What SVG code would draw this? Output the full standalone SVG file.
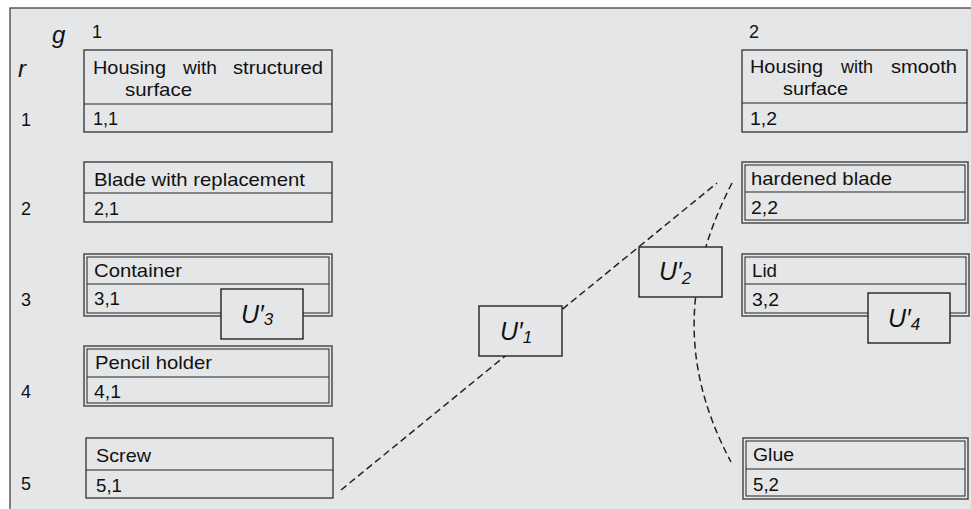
<svg xmlns="http://www.w3.org/2000/svg" width="971" height="509" viewBox="0 0 971 509">
<style>
.frame{fill:#e5e6e8;stroke:#333;stroke-width:1.2}
.box{fill:none;stroke:#222;stroke-width:1.2}
.outer{fill:none;stroke:#555;stroke-width:1.6}
.inner{fill:none;stroke:#222;stroke-width:1}
.div{stroke:#222;stroke-width:1.1}
.t{font-family:"Liberation Sans",Arial,sans-serif;font-size:19px;fill:#111}
.lab{font-family:"Liberation Sans",Arial,sans-serif;font-size:18px;fill:#111}
.it{font-family:"Liberation Sans",Arial,sans-serif;font-size:24px;font-style:italic;fill:#111}
.ubox{fill:#e5e6e8;stroke:#222;stroke-width:1.4}
.u{font-family:"Liberation Sans",Arial,sans-serif;font-size:25px;font-style:italic;fill:#111}
.sub{font-size:17px}
.dash{fill:none;stroke:#222;stroke-width:1.5;stroke-dasharray:7 4}
</style>
<rect x="0" y="0" width="971" height="509" fill="#ffffff"/>
<rect class="frame" x="10" y="8" width="975" height="510"/>

<g id="axis-labels">
<text class="it" x="52" y="43">g</text>
<text class="it" x="18" y="77">r</text>
<text class="lab" x="92" y="38">1</text>
<text class="lab" x="749" y="38">2</text>
<text class="lab" x="21" y="126">1</text>
<text class="lab" x="21" y="215">2</text>
<text class="lab" x="21" y="306">3</text>
<text class="lab" x="21" y="398">4</text>
<text class="lab" x="21" y="490">5</text>
</g>

<g id="connectors">
<line class="dash" x1="341" y1="490" x2="717" y2="183"/>
<path class="dash" d="M732,183 C690,265 674,355 731,462"/>
</g>

<g id="n11">
<rect class="box" x="84" y="50" width="248" height="82"/>
<line class="div" x1="84" y1="104" x2="332" y2="104"/>
<text class="t" x="93" y="74" textLength="73" lengthAdjust="spacingAndGlyphs">Housing</text>
<text class="t" x="183" y="74" textLength="34" lengthAdjust="spacingAndGlyphs">with</text>
<text class="t" x="233" y="74" textLength="90" lengthAdjust="spacingAndGlyphs">structured</text>
<text class="t" x="125" y="96" textLength="67" lengthAdjust="spacingAndGlyphs">surface</text>
<text class="t" x="93" y="125" textLength="25" lengthAdjust="spacingAndGlyphs">1,1</text>
</g>

<g id="n21">
<rect class="box" x="84" y="162" width="248" height="60"/>
<line class="div" x1="84" y1="193" x2="332" y2="193"/>
<text class="t" x="94" y="186" textLength="211" lengthAdjust="spacingAndGlyphs">Blade with replacement</text>
<text class="t" x="94" y="215" textLength="25" lengthAdjust="spacingAndGlyphs">2,1</text>
</g>

<g id="n31">
<rect class="outer" x="84" y="254" width="248" height="62"/>
<rect class="inner" x="87" y="257" width="242" height="56"/>
<line class="div" x1="87" y1="284" x2="329" y2="284"/>
<text class="t" x="94" y="277" textLength="88" lengthAdjust="spacingAndGlyphs">Container</text>
<text class="t" x="94" y="305" textLength="26" lengthAdjust="spacingAndGlyphs">3,1</text>
</g>

<g id="n41">
<rect class="outer" x="84" y="346" width="248" height="60"/>
<rect class="inner" x="87" y="349" width="242" height="54"/>
<line class="div" x1="87" y1="377" x2="329" y2="377"/>
<text class="t" x="95" y="369" textLength="117" lengthAdjust="spacingAndGlyphs">Pencil holder</text>
<text class="t" x="94" y="398" textLength="27" lengthAdjust="spacingAndGlyphs">4,1</text>
</g>

<g id="n51">
<rect class="box" x="86" y="438" width="247" height="60"/>
<line class="div" x1="86" y1="470" x2="333" y2="470"/>
<text class="t" x="96" y="462" textLength="55" lengthAdjust="spacingAndGlyphs">Screw</text>
<text class="t" x="96" y="492" textLength="26" lengthAdjust="spacingAndGlyphs">5,1</text>
</g>

<g id="n12">
<rect class="box" x="742" y="50" width="225" height="82"/>
<line class="div" x1="742" y1="103" x2="967" y2="103"/>
<text class="t" x="750" y="73" textLength="73" lengthAdjust="spacingAndGlyphs">Housing</text>
<text class="t" x="841" y="73" textLength="32" lengthAdjust="spacingAndGlyphs">with</text>
<text class="t" x="891" y="73" textLength="66" lengthAdjust="spacingAndGlyphs">smooth</text>
<text class="t" x="783" y="95" textLength="65" lengthAdjust="spacingAndGlyphs">surface</text>
<text class="t" x="750" y="125" textLength="27" lengthAdjust="spacingAndGlyphs">1,2</text>
</g>

<g id="n22">
<rect class="outer" x="742" y="162" width="226" height="61"/>
<rect class="inner" x="745" y="165" width="220" height="55"/>
<line class="div" x1="745" y1="192" x2="965" y2="192"/>
<text class="t" x="751" y="185" textLength="141" lengthAdjust="spacingAndGlyphs">hardened blade</text>
<text class="t" x="751" y="214" textLength="27" lengthAdjust="spacingAndGlyphs">2,2</text>
</g>

<g id="n32">
<rect class="outer" x="742" y="254" width="227" height="62"/>
<rect class="inner" x="745" y="257" width="221" height="56"/>
<line class="div" x1="745" y1="284" x2="966" y2="284"/>
<text class="t" x="752" y="277" textLength="25" lengthAdjust="spacingAndGlyphs">Lid</text>
<text class="t" x="752" y="306" textLength="27" lengthAdjust="spacingAndGlyphs">3,2</text>
</g>

<g id="n52">
<rect class="outer" x="743" y="438" width="225" height="61"/>
<rect class="inner" x="746" y="441" width="219" height="55"/>
<line class="div" x1="746" y1="469" x2="965" y2="469"/>
<text class="t" x="753" y="461" textLength="41" lengthAdjust="spacingAndGlyphs">Glue</text>
<text class="t" x="753" y="491" textLength="26" lengthAdjust="spacingAndGlyphs">5,2</text>
</g>

<g id="u1">
<rect class="ubox" x="479" y="306" width="83" height="50"/>
<text class="u" x="500" y="340">U′<tspan class="sub" dy="3">1</tspan></text>
</g>
<g id="u2">
<rect class="ubox" x="639" y="247" width="83" height="50"/>
<text class="u" x="659" y="280">U′<tspan class="sub" dy="4">2</tspan></text>
</g>
<g id="u3">
<rect class="ubox" x="221" y="289" width="82" height="50"/>
<text class="u" x="241" y="323">U′<tspan class="sub" dy="2">3</tspan></text>
</g>
<g id="u4">
<rect class="ubox" x="868" y="293" width="82" height="50"/>
<text class="u" x="888" y="327">U′<tspan class="sub" dy="3">4</tspan></text>
</g>
</svg>
